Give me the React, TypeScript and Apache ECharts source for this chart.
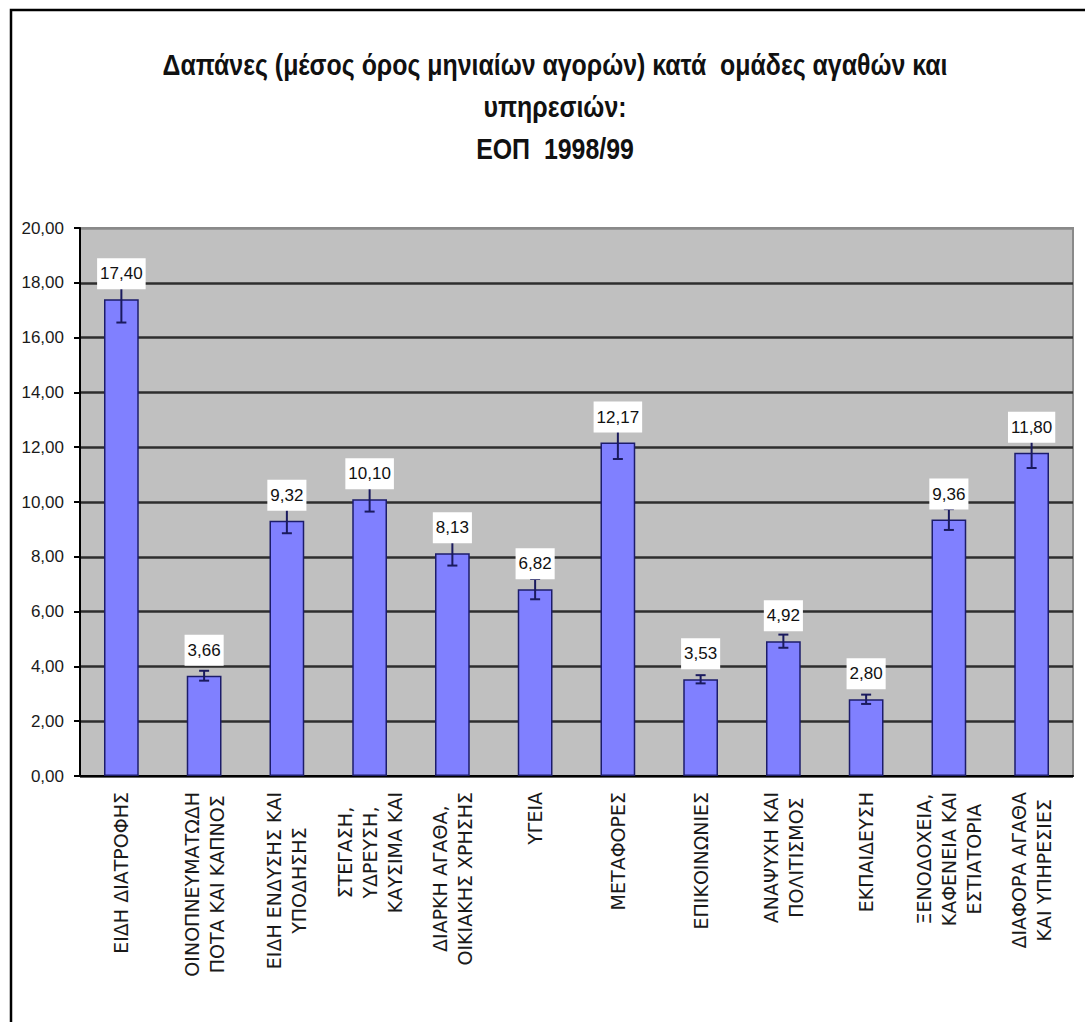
import React, { useEffect, useRef } from "react";
import * as echarts from "echarts";

const titleLines = [
  "Δαπάνες (μέσος όρος μηνιαίων αγορών) κατά  ομάδες αγαθών και",
  "υπηρεσιών:",
  "ΕΟΠ  1998/99",
];

const categories = [
  "ΕΙΔΗ ΔΙΑΤΡΟΦΗΣ",
  "ΟΙΝΟΠΝΕΥΜΑΤΩΔΗ\nΠΟΤΑ ΚΑΙ ΚΑΠΝΟΣ",
  "ΕΙΔΗ ΕΝΔΥΣΗΣ ΚΑΙ\nΥΠΟΔΗΣΗΣ",
  "ΣΤΕΓΑΣΗ,\nΥΔΡΕΥΣΗ,\nΚΑΥΣΙΜΑ ΚΑΙ",
  "ΔΙΑΡΚΗ ΑΓΑΘΑ,\nΟΙΚΙΑΚΗΣ ΧΡΗΣΗΣ",
  "ΥΓΕΙΑ",
  "ΜΕΤΑΦΟΡΕΣ",
  "ΕΠΙΚΟΙΝΩΝΙΕΣ",
  "ΑΝΑΨΥΧΗ ΚΑΙ\nΠΟΛΙΤΙΣΜΟΣ",
  "ΕΚΠΑΙΔΕΥΣΗ",
  "ΞΕΝΟΔΟΧΕΙΑ,\nΚΑΦΕΝΕΙΑ ΚΑΙ\nΕΣΤΙΑΤΟΡΙΑ",
  "ΔΙΑΦΟΡΑ ΑΓΑΘΑ\nΚΑΙ ΥΠΗΡΕΣΙΕΣ",
];

const values = [17.4, 3.66, 9.32, 10.1, 8.13, 6.82, 12.17, 3.53, 4.92, 2.8, 9.36, 11.8];
const errors = [0.85, 0.18, 0.46, 0.45, 0.45, 0.37, 0.6, 0.15, 0.24, 0.17, 0.38, 0.56];

const yMin = 0;
const yMax = 20;
const yStep = 2;

const fmt = (v: number) => v.toFixed(2).replace(".", ",");

export default function App() {
  const ref = useRef<HTMLDivElement>(null);

  useEffect(() => {
    if (!ref.current) return;
    const chart = echarts.init(ref.current, undefined, { renderer: "svg" });
    const splitColors: string[] = [];
    for (let v = yMin; v <= yMax; v += yStep) splitColors.push(v >= yMax ? "#8a8a8a" : "#2e2e2e");

    const xFont = {
      fontFamily: "DejaVu Sans",
      fontSize: 19,
      lineHeight: 25,
      color: "#1a1a1a",
    };

    chart.setOption({
      animation: false,
      backgroundColor: "#ffffff",
      graphic: [
        {
          type: "text",
          x: 555,
          y: 44,
          scaleX: 0.83,
          style: {
            text: titleLines.join("\n"),
            align: "center",
            verticalAlign: "top",
            fontFamily: "Liberation Sans",
            fontWeight: "bold",
            fontSize: 30,
            lineHeight: 42,
            fill: "#111111",
          },
        },
        {
          type: "rect",
          shape: { x: 11, y: 10, width: 1120, height: 1060 },
          style: { fill: "none", stroke: "#000000", lineWidth: 2.5 },
          z: 100,
        },
      ],
      grid: {
        left: 80,
        top: 228,
        right: 12,
        bottom: 246,
        show: true,
        backgroundColor: "#c0c0c0",
        borderColor: "#8a8a8a",
        borderWidth: 2,
      },
      xAxis: {
        type: "category",
        data: categories,
        axisLine: { show: true, lineStyle: { color: "#000000", width: 2 } },
        axisTick: { show: false },
        axisLabel: {
          interval: 0,
          rotate: 90,
          margin: 16,
          ...xFont,
          formatter: (val: string) =>
            val
              .split("\n")
              .map((l) => `{c|${l}}`)
              .join("\n"),
          rich: {
            c: { align: "center", ...xFont },
          },
        },
      },
      yAxis: {
        type: "value",
        min: yMin,
        max: yMax,
        interval: yStep,
        axisLine: { show: true, lineStyle: { color: "#000000", width: 2 } },
        axisTick: { show: true, length: 6, lineStyle: { color: "#000000", width: 2 } },
        axisLabel: {
          margin: 16,
          formatter: (v: number) => fmt(v),
          fontFamily: "Liberation Sans",
          fontSize: 17,
          color: "#1a1a1a",
        },
        splitLine: { show: true, lineStyle: { color: splitColors, width: 2.5 } },
      },
      series: [
        {
          type: "bar",
          data: values,
          barWidth: "42%",
          barGap: "-100%",
          z: 2,
          itemStyle: { color: "#8080ff", borderColor: "#1c1c6a", borderWidth: 1.5 },
        },
        {
          type: "custom",
          z: 3,
          data: values.map((v, i) => [i, v, errors[i]]),
          encode: { x: 0, y: 1 },
          renderItem: (params: any, api: any) => {
            const idx = api.value(0);
            const v = api.value(1);
            const e = api.value(2);
            const top = api.coord([idx, v + e]);
            const bot = api.coord([idx, v - e]);
            const hw = 5;
            const st = { stroke: "#1a1a5e", lineWidth: 2 };
            return {
              type: "group",
              children: [
                { type: "line", shape: { x1: top[0], y1: top[1], x2: bot[0], y2: bot[1] }, style: st },
                { type: "line", shape: { x1: top[0] - hw, y1: top[1], x2: top[0] + hw, y2: top[1] }, style: st },
                { type: "line", shape: { x1: bot[0] - hw, y1: bot[1], x2: bot[0] + hw, y2: bot[1] }, style: st },
              ],
            };
          },
        },
        {
          type: "bar",
          data: values,
          barWidth: "42%",
          barGap: "-100%",
          z: 10,
          silent: true,
          itemStyle: { color: "rgba(0,0,0,0)", borderWidth: 0 },
          label: {
            show: true,
            position: "top",
            distance: 10,
            formatter: (p: any) => fmt(p.value),
            backgroundColor: "#ffffff",
            padding: [7, 3, 7, 3],
            fontFamily: "Liberation Sans",
            fontSize: 17,
            color: "#111111",
          },
        },
      ],
    });
    return () => chart.dispose();
  }, []);

  return (
    <div
      ref={ref}
      style={{ position: "fixed", left: 0, top: 0, width: 1085, height: 1022, background: "#fff" }}
    />
  );
}
